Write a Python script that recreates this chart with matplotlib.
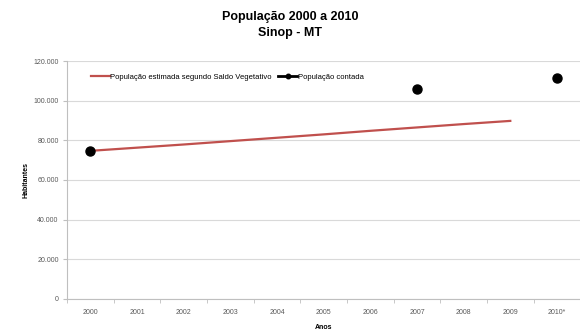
import matplotlib.pyplot as plt
import numpy as np
from matplotlib.ticker import FuncFormatter

plt.rcParams['font.family'] = ['Liberation Sans', 'DejaVu Sans']

anos = ['2000', '2001', '2002', '2003', '2004', '2005', '2006', '2007', '2008', '2009', '2010*']
estimada = [74700, 76300, 77900, 79600, 81300, 83000, 84800, 86500, 88200, 89800, np.nan]
contada = [74831, np.nan, np.nan, np.nan, np.nan, np.nan, np.nan, 105762, np.nan, np.nan, 111600]

x = np.arange(len(anos))

fig = plt.figure(figsize=(5.8, 3.31), dpi=100)
ax = fig.add_axes([0.1155, 0.0967, 0.885, 0.719])

ax.plot(x, estimada, color='#c0504d', lw=1.6,
        label='População estimada segundo Saldo Vegetativo')
ax.plot(x, contada, color='black', lw=2, marker='o', ms=6.5,
        label='População contada')

ax.set_xlim(-0.5, 10.5)
ax.set_ylim(0, 120000)
ax.set_yticks(np.arange(0, 120001, 20000))
ax.yaxis.set_major_formatter(FuncFormatter(lambda v, p: f'{int(v):,}'.replace(',', '.')))
ax.set_xticks(x)
ax.set_xticklabels(anos)
ax.set_xticks(np.arange(-0.5, 10.6, 1), minor=True)
ax.tick_params(axis='x', which='major', length=0, pad=7, labelsize=5, colors='#595959')
ax.tick_params(axis='x', which='minor', length=3, color='#bfbfbf')
ax.tick_params(axis='y', length=3, color='#bfbfbf', labelsize=5, labelcolor='#595959', pad=3)

ax.grid(axis='y', color='#d9d9d9', lw=0.8)
ax.set_axisbelow(True)
for s in ['top', 'right']:
    ax.spines[s].set_visible(False)
for s in ['left', 'bottom']:
    ax.spines[s].set_color('#bfbfbf')

ax.set_xlabel('Anos', fontsize=5, fontweight='bold', labelpad=6)
ax.set_ylabel('Habitantes', fontsize=5, fontweight='bold', labelpad=3)

fig.suptitle('População 2000 a 2010\nSinop - MT', fontsize=9, fontweight='bold',
             y=0.968, linespacing=1.5)

ax.legend(loc='center left', bbox_to_anchor=(0.04, 0.933), ncol=2, frameon=False,
          fontsize=5.5, handlelength=2.5, handletextpad=0.1, columnspacing=0.8,
          borderaxespad=0, markerscale=0.5)

fig.savefig('out.png', dpi=100)
